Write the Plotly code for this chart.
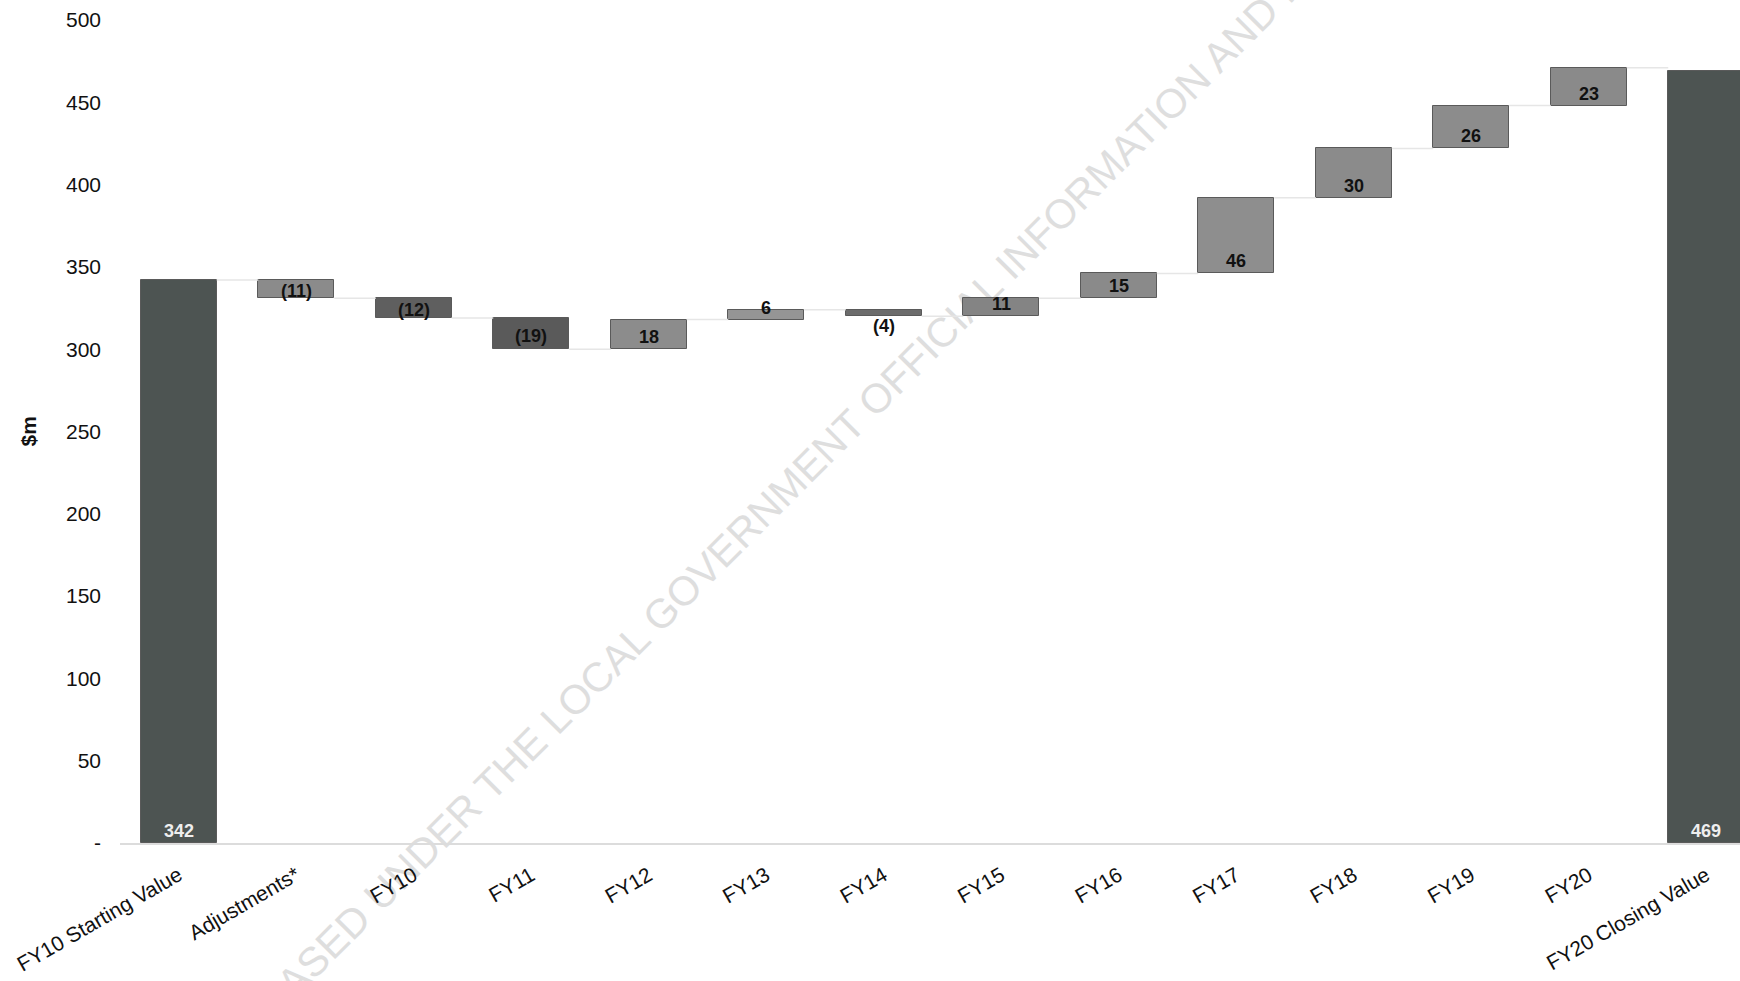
import plotly.graph_objects as go

# Waterfall of value movements, $m
categories = ["FY10 Starting Value", "Adjustments*", "FY10", "FY11", "FY12", "FY13",
              "FY14", "FY15", "FY16", "FY17", "FY18", "FY19", "FY20", "FY20 Closing Value"]
start_value = 342
changes = [-11, -12, -19, 18, 6, -4, 11, 15, 46, 30, 26, 23]
closing_value = 469
y_ticks = [0, 50, 100, 150, 200, 250, 300, 350, 400, 450, 500]
y_tick_text = ["-", "50", "100", "150", "200", "250", "300", "350", "400", "450", "500"]

# bar fills
total_color = "#4d5452"
change_colors = ["#8b8b8b", "#5f5f5f", "#5a5a5a", "#8c8c8c", "#959595", "#6c6c6c",
                 "#848484", "#8a8a8a", "#8e8e8e", "#8b8b8b", "#8c8c8c", "#8a8a8a"]

FONT = "Liberation Sans, Arial, sans-serif"
BAR_W = 0.647

# bases and heights for every bar
bases, heights, levels = [0], [start_value], [start_value]
level = start_value
for d in changes:
    bases.append(level if d >= 0 else level + d)
    heights.append(abs(d))
    level += d
    levels.append(level)
bases.append(0)
heights.append(closing_value)
levels.append(closing_value)

colors = [total_color] + change_colors + [total_color]
xs = list(range(len(categories)))

fig = go.Figure()

# faint connectors between consecutive bars
cx, cy = [], []
for i in range(len(categories) - 1):
    cx += [i + BAR_W / 2, i + 1 - BAR_W / 2, None]
    cy += [levels[i], levels[i], None]
fig.add_trace(go.Scatter(x=cx, y=cy, mode="lines",
                         line=dict(color="#e6e6e6", width=1.5),
                         hoverinfo="skip", showlegend=False))

fig.add_trace(go.Bar(
    x=xs, y=heights, base=bases, width=BAR_W,
    marker=dict(color=colors, line=dict(color="#5a5a5a", width=1)),
    showlegend=False, hoverinfo="skip",
))

W, H = 1740, 981
ML, MR, MT, MB = 120, 0, 20, 138
pw, ph = W - ML - MR, H - MT - MB


def px_to_paper(px, py):
    return (px - ML) / pw, (H - MB - py) / ph


# diagonal release watermark, drawn underneath the chart as a shape label
wm_cx, wm_cy, half = 885, 384, 300
x0, y0 = px_to_paper(wm_cx - half, wm_cy + half)
x1, y1 = px_to_paper(wm_cx + half, wm_cy - half)
fig.add_shape(
    type="line", xref="paper", yref="paper", x0=x0, y0=y0, x1=x1, y1=y1,
    layer="below", line=dict(color="rgba(0,0,0,0)", width=0),
    label=dict(text="RELEASED UNDER THE LOCAL GOVERNMENT OFFICIAL INFORMATION AND MEETINGS ACT 1987",
               textangle=-45, textposition="middle", xanchor="center", yanchor="middle",
               font=dict(family=FONT, size=41, color="#dedede")),
)

annotations = []
# value labels
for i, cat in enumerate(categories):
    if i == 0 or i == len(categories) - 1:
        val = start_value if i == 0 else closing_value
        annotations.append(dict(x=i, y=0, xref="x", yref="y", text="<b>%d</b>" % val,
                                showarrow=False, yshift=12, yanchor="middle",
                                font=dict(family=FONT, size=18, color="#eeeeee")))
        continue
    d = changes[i - 1]
    lo = bases[i]
    if d >= 0:
        txt, y, shift = str(d), lo, 12
    else:
        txt = "(%d)" % abs(d)
        if abs(d) < 5:
            y, shift = lo, -10
        else:
            y, shift = lo + abs(d) / 2, -2
    annotations.append(dict(x=i, y=y, xref="x", yref="y", text="<b>%s</b>" % txt,
                            showarrow=False, yshift=shift, yanchor="middle",
                            font=dict(family=FONT, size=18, color="#111111")))

# y-axis title
annotations.append(dict(x=(28 - ML) / pw, y=0.5, xref="paper", yref="paper", text="<b>$m</b>",
                        textangle=-90, showarrow=False, xanchor="center", yanchor="middle",
                        font=dict(family=FONT, size=21, color="#111111")))

fig.update_layout(
    width=W, height=H,
    margin=dict(l=ML, r=MR, t=MT, b=MB, autoexpand=False),
    paper_bgcolor="white", plot_bgcolor="rgba(0,0,0,0)",
    font=dict(family=FONT, size=21, color="#111111"),
    annotations=annotations,
    bargap=0,
)
fig.update_xaxes(
    range=[-0.5, -0.5 + pw / 117.5],
    tickmode="array", tickvals=xs, ticktext=categories,
    tickangle=-30, tickfont=dict(size=21, color="#111111"),
    showgrid=False, zeroline=False, automargin=False,
    showline=True, linecolor="#dcdcdc", linewidth=2,
    ticks="", ticklabelstandoff=10,
)
fig.update_yaxes(
    range=[0, 500], tickmode="array", tickvals=y_ticks, ticktext=y_tick_text,
    tickfont=dict(size=21, color="#111111"), automargin=False,
    showgrid=False, zeroline=False, showline=False,
    ticks="", ticklabelstandoff=18,
)

fig.write_html("out.html")
